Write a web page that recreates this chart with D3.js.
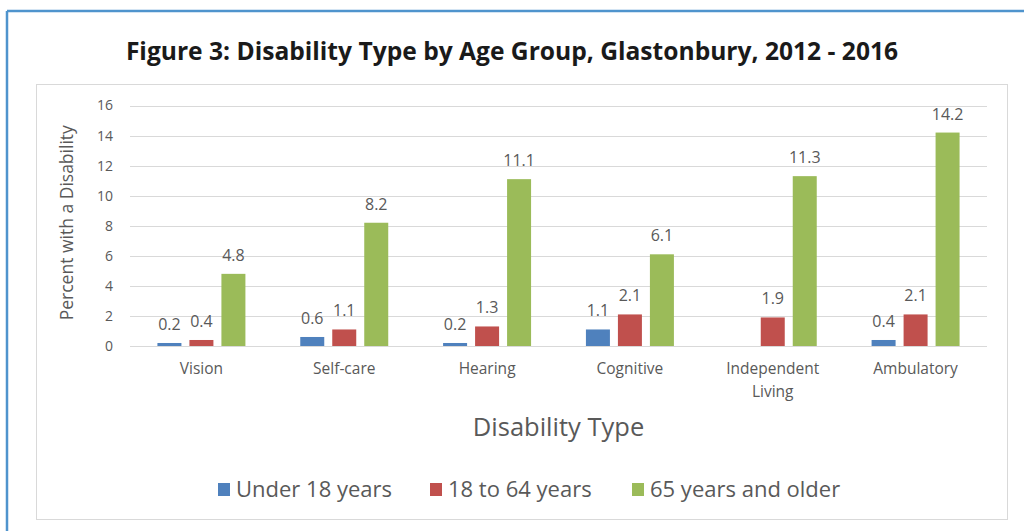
<!DOCTYPE html>
<html>
<head>
<meta charset="utf-8">
<script src="https://cdn.jsdelivr.net/npm/d3@7"></script>
<style>
  html, body { margin: 0; padding: 0; background: #fff; }
  svg { display: block; }
</style>
</head>
<body>
<svg id="chart" width="1024" height="531"></svg>
<script>
// Disability prevalence by type and age group
const categories = ["Vision", "Self-care", "Hearing", "Cognitive", "Independent Living", "Ambulatory"];
const seriesNames = ["Under 18 years", "18 to 64 years", "65 years and older"];
const under18 = [0.2, 0.6, 0.2, 1.1, null, 0.4];
const age18to64 = [0.4, 1.1, 1.3, 2.1, 1.9, 2.1];
const age65plus = [4.8, 8.2, 11.1, 6.1, 11.3, 14.2];
const yTicks = [0, 2, 4, 6, 8, 10, 12, 14, 16];
const colors = ["#4f81bd", "#c0504d", "#9bbb59"];

const series = [under18, age18to64, age65plus];
const rows = categories.map((c, i) => ({
  category: c,
  values: series.map((s, j) => ({ key: seriesNames[j], value: s[i], idx: j }))
}));

const svg = d3.select("#chart");
const textColor = "#595959";
const font = "'Open Sans', sans-serif";

// outer frame: blue rule along top and left
svg.append("line").attr("x1", 7).attr("x2", 1024).attr("y1", 11).attr("y2", 11)
  .attr("stroke", "#4f94cd").attr("stroke-width", 2.5);
svg.append("line").attr("x1", 7).attr("x2", 7).attr("y1", 11).attr("y2", 531)
  .attr("stroke", "#4f94cd").attr("stroke-width", 2.5);

// title
svg.append("text")
  .attr("x", 512).attr("y", 60)
  .attr("text-anchor", "middle")
  .attr("font-family", font).attr("font-weight", "bold").attr("font-size", 24.6)
  .attr("fill", "#1a1a1a")
  .text("Figure 3: Disability Type by Age Group, Glastonbury, 2012 - 2016");

// chart area box
svg.append("rect")
  .attr("x", 36.5).attr("y", 84.5).attr("width", 971).attr("height", 435)
  .attr("fill", "none").attr("stroke", "#d9d9d9").attr("stroke-width", 1);

const plot = { left: 130, right: 987, top: 105.5, bottom: 346 };

const x0 = d3.scaleBand().domain(categories).range([plot.left, plot.right]).paddingInner(0.384).paddingOuter(0.192);
const x1 = d3.scaleBand().domain(seriesNames).range([0, x0.bandwidth()]).paddingInner(0.25);
const y = d3.scaleLinear().domain([0, 16]).range([plot.bottom, plot.top]);

// gridlines
svg.append("g").selectAll("line").data(yTicks).join("line")
  .attr("x1", plot.left).attr("x2", plot.right)
  .attr("y1", d => Math.round(y(d)) + 0.5).attr("y2", d => Math.round(y(d)) + 0.5)
  .attr("stroke", "#d9d9d9").attr("stroke-width", 1);

// y axis labels
const yAxis = d3.axisLeft(y).tickValues(yTicks).tickSize(0).tickPadding(0);
const yg = svg.append("g").attr("transform", `translate(${plot.left - 17},0)`).call(yAxis);
yg.select(".domain").remove();
yg.selectAll("text").attr("font-family", font).attr("font-size", 14).attr("fill", textColor);

// y axis title
svg.append("text")
  .attr("transform", `translate(73, ${(plot.top + plot.bottom) / 2 - 3}) rotate(-90)`)
  .attr("text-anchor", "middle")
  .attr("font-family", font).attr("font-size", 17.5).attr("fill", textColor)
  .text("Percent with a Disability");

// bars
const groups = svg.append("g").selectAll("g").data(rows).join("g")
  .attr("transform", d => `translate(${x0(d.category)},0)`);

groups.selectAll("rect").data(d => d.values.filter(v => v.value != null)).join("rect")
  .attr("x", d => x1(d.key))
  .attr("width", x1.bandwidth())
  .attr("y", d => y(d.value))
  .attr("height", d => y(0) - y(d.value))
  .attr("fill", d => colors[d.idx]);

// value labels
groups.selectAll("text").data(d => d.values.filter(v => v.value != null)).join("text")
  .attr("x", d => x1(d.key) + x1.bandwidth() / 2)
  .attr("y", d => y(d.value) - 13)
  .attr("text-anchor", "middle")
  .attr("font-family", font).attr("font-size", 16).attr("fill", textColor)
  .text(d => d.value.toFixed(1));

// category labels (two-word label wraps onto a second line)
const xAxis = d3.axisBottom(x0).tickSize(0).tickPadding(0);
const xg = svg.append("g").attr("transform", `translate(0, ${plot.bottom})`).call(xAxis);
xg.select(".domain").remove();
xg.selectAll("text").each(function(d) {
  const t = d3.select(this);
  t.text(null).attr("font-family", font).attr("font-size", 15.5).attr("fill", textColor).attr("dy", null);
  const words = d.split(" ");
  words.forEach((w, i) => {
    t.append("tspan").attr("x", 0).attr("y", 28 + i * 23).text(w);
  });
});

// x axis title
svg.append("text")
  .attr("x", (plot.left + plot.right) / 2).attr("y", 436)
  .attr("text-anchor", "middle")
  .attr("font-family", font).attr("font-size", 25.5).attr("fill", textColor)
  .text("Disability Type");

// legend
const legendItems = [
  { name: seriesNames[0], color: colors[0], x: 218 },
  { name: seriesNames[1], color: colors[1], x: 430 },
  { name: seriesNames[2], color: colors[2], x: 632 }
];
const lg = svg.append("g").selectAll("g").data(legendItems).join("g")
  .attr("transform", d => `translate(${d.x}, 489)`);
lg.append("rect").attr("x", 0).attr("y", -6).attr("width", 12).attr("height", 13).attr("fill", d => d.color);
lg.append("text").attr("x", 18).attr("y", 8)
  .attr("font-family", font).attr("font-size", 22).attr("fill", textColor)
  .text(d => d.name);
</script>
</body>
</html>
